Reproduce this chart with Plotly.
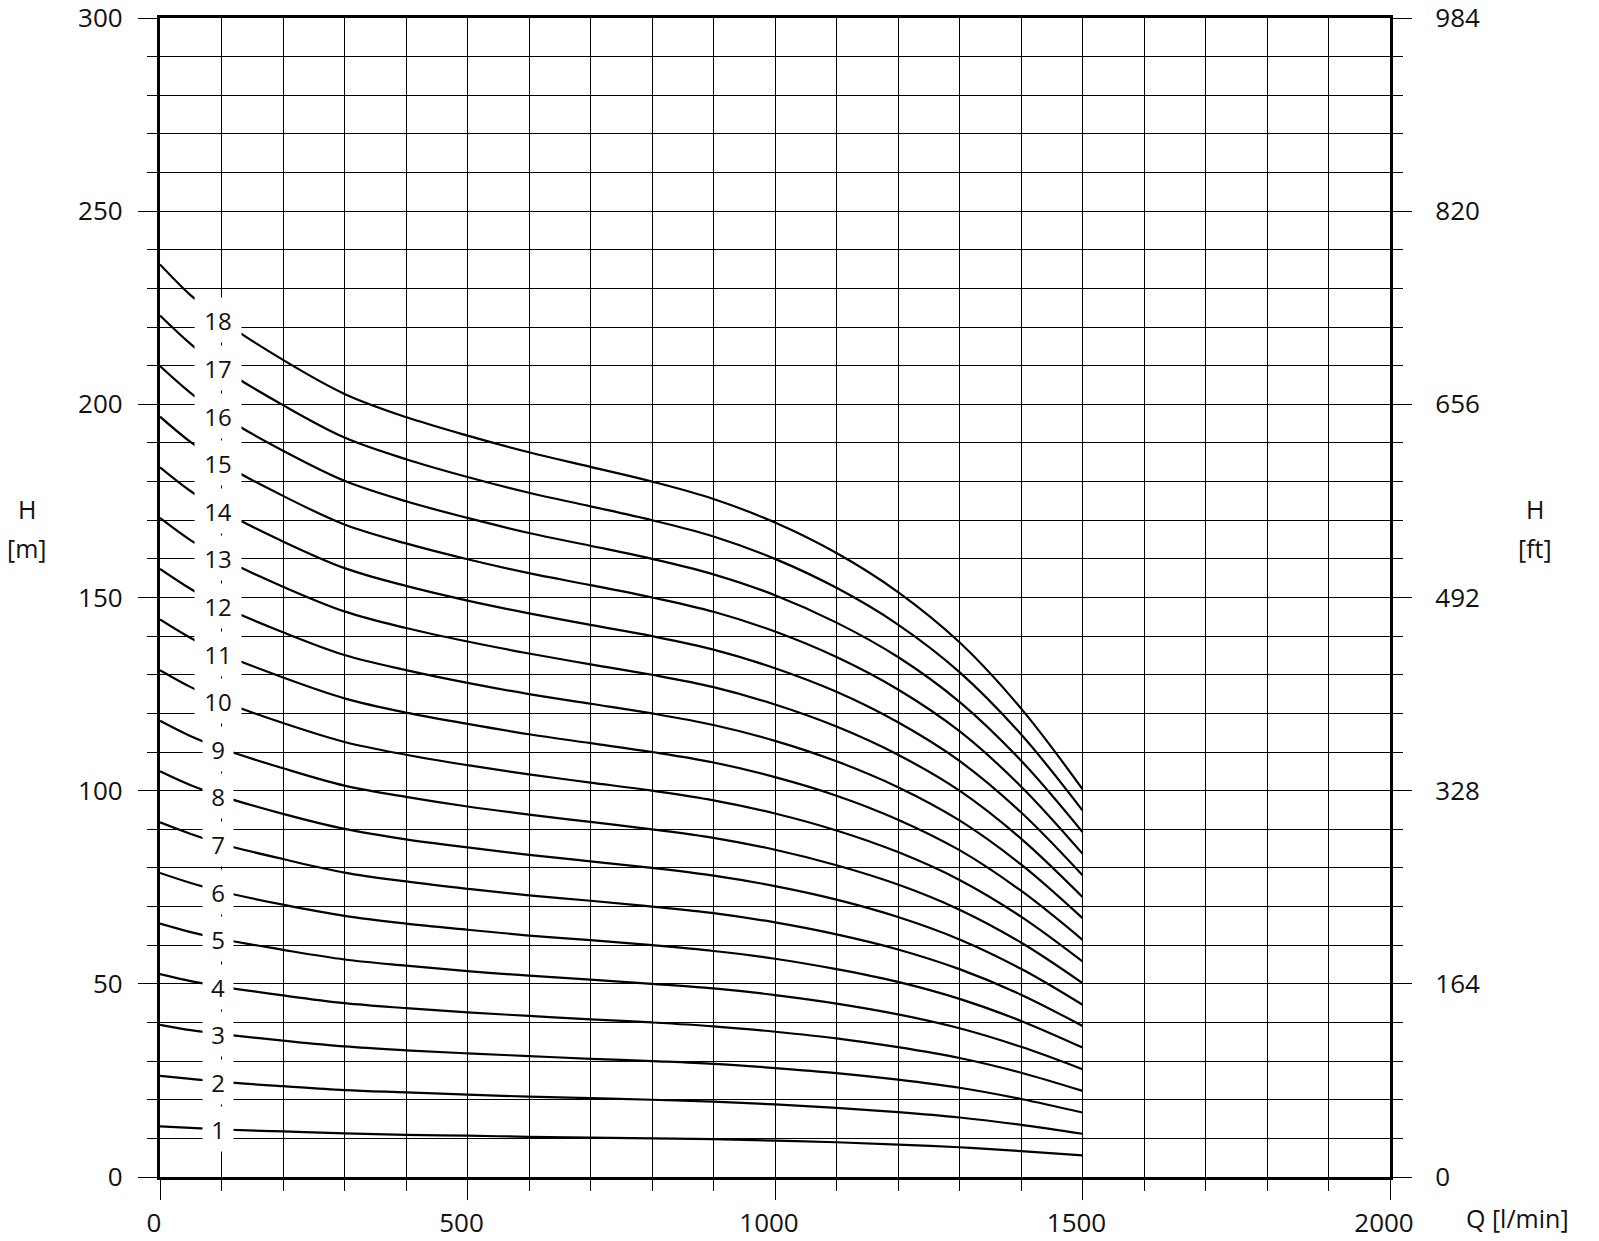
import plotly.graph_objects as go

# Flow rate sample points [l/min]
flow = [0, 50, 100, 200, 300, 400, 500, 600, 700, 800, 900, 1000, 1100, 1200, 1300, 1400, 1500]

# Head [m] for each number of stages
h1 = [13.1, 12.7, 12.3, 11.8, 11.3, 10.9, 10.7, 10.4, 10.2, 10.0, 9.8, 9.4, 9.0, 8.4, 7.7, 6.7, 5.6]
h2 = [26.2, 25.4, 24.6, 23.5, 22.5, 21.9, 21.3, 20.8, 20.4, 20.0, 19.5, 18.8, 17.9, 16.8, 15.4, 13.5, 11.2]
h3 = [39.4, 38.0, 37.0, 35.3, 33.8, 32.8, 32.0, 31.3, 30.6, 30.0, 29.3, 28.2, 26.9, 25.2, 23.1, 20.2, 16.7]
h4 = [52.5, 50.7, 49.3, 47.0, 45.0, 43.7, 42.6, 41.7, 40.8, 40.0, 39.0, 37.6, 35.9, 33.6, 30.8, 27.0, 22.3]
h5 = [65.6, 63.4, 61.6, 58.8, 56.3, 54.7, 53.3, 52.1, 51.1, 50.0, 48.8, 47.1, 44.9, 42.1, 38.5, 33.7, 27.9]
h6 = [78.7, 76.1, 73.9, 70.5, 67.6, 65.6, 64.0, 62.5, 61.3, 60.0, 58.5, 56.5, 53.8, 50.5, 46.1, 40.4, 33.5]
h7 = [91.8, 88.8, 86.2, 82.3, 78.8, 76.5, 74.6, 72.9, 71.5, 70.0, 68.3, 65.9, 62.8, 58.9, 53.8, 47.2, 39.1]
h8 = [105.0, 101.4, 98.6, 94.0, 90.1, 87.4, 85.3, 83.4, 81.7, 80.0, 78.0, 75.3, 71.8, 67.3, 61.5, 53.9, 44.6]
h9 = [118.1, 114.1, 110.9, 105.8, 101.3, 98.4, 95.9, 93.8, 91.9, 90.0, 87.8, 84.7, 80.7, 75.7, 69.2, 60.7, 50.2]
h10 = [131.2, 126.8, 123.2, 117.5, 112.6, 109.3, 106.6, 104.2, 102.1, 100.0, 97.5, 94.1, 89.7, 84.1, 76.9, 67.4, 55.8]
h11 = [144.3, 139.5, 135.5, 129.3, 123.9, 120.2, 117.3, 114.6, 112.3, 110.0, 107.3, 103.5, 98.7, 92.5, 84.6, 74.1, 61.4]
h12 = [157.4, 152.2, 147.8, 141.0, 135.1, 131.2, 127.9, 125.0, 122.5, 120.0, 117.0, 112.9, 107.6, 100.9, 92.3, 80.9, 67.0]
h13 = [170.6, 164.8, 160.2, 152.8, 146.4, 142.1, 138.6, 135.5, 132.7, 130.0, 126.8, 122.3, 116.6, 109.3, 100.0, 87.6, 72.5]
h14 = [183.7, 177.5, 172.5, 164.5, 157.6, 153.0, 149.2, 145.9, 142.9, 140.0, 136.5, 131.7, 125.6, 117.7, 107.7, 94.4, 78.1]
h15 = [196.8, 190.2, 184.8, 176.3, 168.9, 164.0, 159.9, 156.3, 153.2, 150.0, 146.3, 141.2, 134.6, 126.2, 115.4, 101.1, 83.7]
h16 = [209.9, 202.9, 197.1, 188.0, 180.2, 174.9, 170.6, 166.7, 163.4, 160.0, 156.0, 150.6, 143.5, 134.6, 123.0, 107.8, 89.3]
h17 = [223.0, 215.6, 209.4, 199.8, 191.4, 185.8, 181.2, 177.1, 173.6, 170.0, 165.8, 160.0, 152.5, 143.0, 130.7, 114.6, 94.9]
h18 = [236.2, 228.2, 221.8, 211.5, 202.7, 196.7, 191.9, 187.6, 183.8, 180.0, 175.5, 169.4, 161.5, 151.4, 138.4, 121.3, 100.4]

stage_labels = ["1", "2", "3", "4", "5", "6", "7", "8", "9", "10",
                "11", "12", "13", "14", "15", "16", "17", "18"]
curves = [h1, h2, h3, h4, h5, h6, h7, h8, h9, h10, h11, h12, h13, h14, h15, h16, h17, h18]

# Axis ticks
x_ticks = [0, 500, 1000, 1500, 2000]
y_ticks_m = [0, 50, 100, 150, 200, 250, 300]
y_ticks_ft = ["0", "164", "328", "492", "656", "820", "984"]

FONT = "Open Sans"
TXT = "#111111"

fig = go.Figure()
for name, h in zip(stage_labels, curves):
    fig.add_trace(go.Scatter(
        x=flow, y=h, mode="lines", name=name,
        line=dict(color="black", width=2.2, shape="spline", smoothing=1.0, simplify=False),
        showlegend=False, hoverinfo="skip",
    ))

# invisible trace for the right (ft) axis
fig.add_trace(go.Scatter(x=[0], y=[0], yaxis="y2", mode="markers",
                         marker=dict(opacity=0), showlegend=False, hoverinfo="skip"))

# stage labels with white boxes (at the Q=100 position of each curve)
label_x = flow[2] - 5
for name, h in zip(stage_labels, curves):
    fig.add_annotation(
        x=label_x, y=h[2], xref="x", yref="y", text=name, showarrow=False,
        font=dict(family=FONT, size=24, color=TXT),
        bgcolor="white", width=46 if len(name) > 1 else 30, height=44,
        borderpad=0, xanchor="center", yanchor="middle",
    )

YR = [0, 300]
fig.update_layout(
    width=1599, height=1241,
    margin=dict(l=160, r=209, t=18, b=64, autoexpand=False),
    paper_bgcolor="white", plot_bgcolor="white",
    font=dict(family=FONT, size=26, color=TXT),
    xaxis=dict(
        range=[0, 2000], tickvals=x_ticks, ticks="outside", ticklen=20, tickwidth=1.2,
        tickcolor="black", showgrid=True, gridcolor="black", gridwidth=1.2,
        minor=dict(dtick=100, ticks="outside", ticklen=11, tickwidth=1.2, tickcolor="black",
                   showgrid=True, gridcolor="black", gridwidth=1.2),
        showline=True, linewidth=3.2, linecolor="black", mirror=True,
        zeroline=False, ticklabelstandoff=1, ticklabelshift=-6,
        ticklabeloverflow="allow",
        tickfont=dict(family=FONT, size=26, color=TXT),
    ),
    yaxis=dict(
        range=YR, tickvals=y_ticks_m, ticks="outside", ticklen=19, tickwidth=1.2,
        tickcolor="black", showgrid=True, gridcolor="black", gridwidth=1.2,
        minor=dict(dtick=10, ticks="outside", ticklen=10, tickwidth=1.2, tickcolor="black",
                   showgrid=True, gridcolor="black", gridwidth=1.2),
        showline=True, linewidth=3.2, linecolor="black", mirror=True,
        zeroline=False, ticklabelstandoff=10, ticklabeloverflow="allow",
        tickfont=dict(family=FONT, size=26, color=TXT),
    ),
    yaxis2=dict(
        range=YR, overlaying="y", side="right",
        tickvals=y_ticks_m, ticktext=y_ticks_ft, ticks="outside", ticklen=19, tickwidth=1.2,
        tickcolor="black", showgrid=False,
        minor=dict(dtick=10, ticks="outside", ticklen=10, tickwidth=1.2, tickcolor="black",
                   showgrid=False),
        showline=True, linewidth=3.2, linecolor="black",
        zeroline=False, ticklabelstandoff=18, ticklabeloverflow="allow",
        tickfont=dict(family=FONT, size=26, color=TXT),
    ),
)

# axis titles
def title(text, x, y):
    fig.add_annotation(text=text, x=x, y=y, xref="paper", yref="paper", showarrow=False,
                       font=dict(family=FONT, size=25, color=TXT),
                       xanchor="center", yanchor="middle")

title("H", -0.108, 0.5764)
title("[m]", -0.108, 0.5427)
title("H", 1.1179, 0.5764)
title("[ft]", 1.1179, 0.5427)
title("Q [l/min]", 1.1033, -0.0354)

fig.write_html(
    "out.html",
    config={"displayModeBar": False},
    post_script="document.body.style.margin='0px';document.body.style.overflow='hidden';",
)
